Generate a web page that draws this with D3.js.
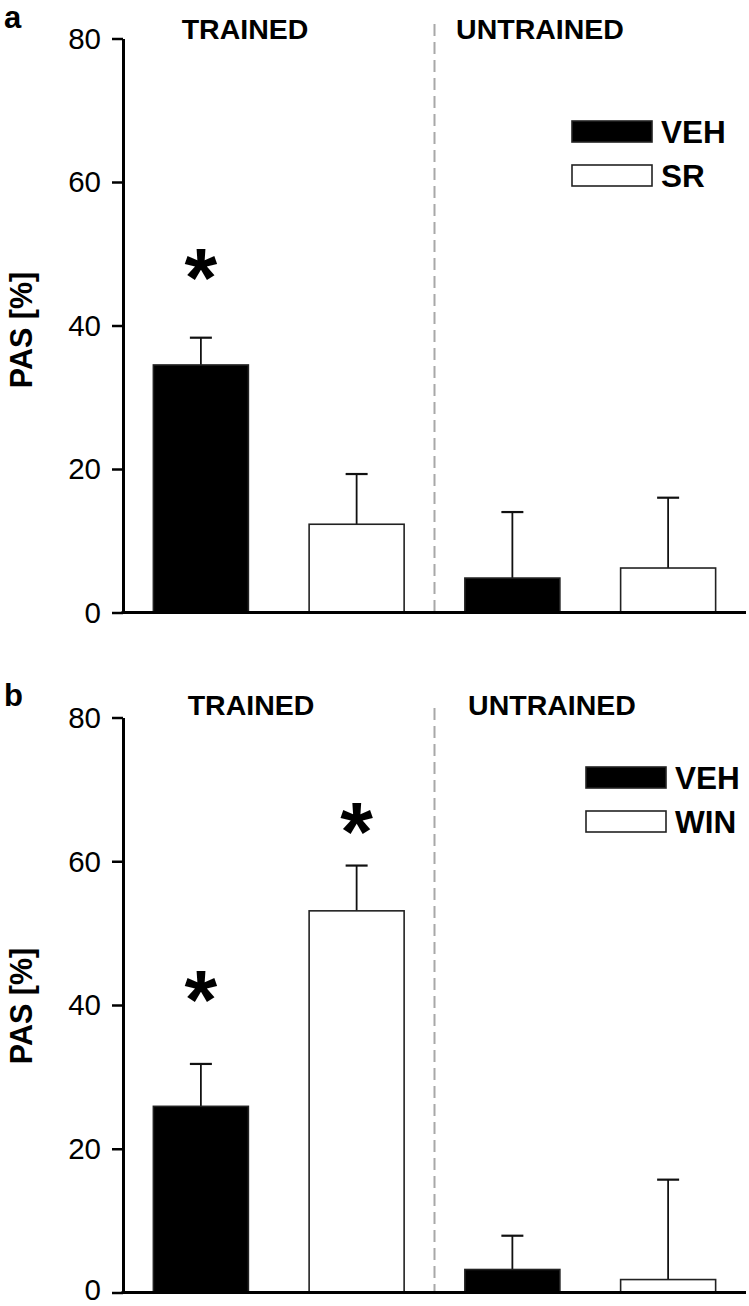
<!DOCTYPE html>
<html><head><meta charset="utf-8">
<script src="https://cdn.jsdelivr.net/npm/d3@7"></script>
<style>body{margin:0;background:#fff}svg{display:block}text{font-family:"Liberation Sans",Arial,sans-serif}</style>
</head><body><svg id="c" width="749" height="1306"></svg>
<script>
// ---------- data ----------
const barKeys = ["TRAINED-VEH", "TRAINED-DRUG", "UNTRAINED-VEH", "UNTRAINED-DRUG"];
const conditions = ["TRAINED", "UNTRAINED"];
const yTicks = [0, 20, 40, 60, 80];

const legendA = ["VEH", "SR"];
const meansA = [34.5, 12.3, 4.8, 6.2];
const semA = [3.8, 7.0, 9.2, 9.8];
const starsA = [46.9, null, null, null];

const legendB = ["VEH", "WIN"];
const meansB = [25.9, 53.1, 3.2, 1.8];
const semB = [5.9, 6.3, 4.7, 13.9];
const starsB = [41.0, 64.3, null, null];

// ---------- drawing ----------
const svg = d3.select("#c");
const fills = ["#000", "#fff", "#000", "#fff"];
const H = 1306;

function panel(cfg) {
  const g = svg.append("g");
  const y = d3.scaleLinear().domain([0, 80]).range([cfg.y0, cfg.y80]);
  const x = d3.scaleBand().domain(barKeys).range([123, 746]).paddingInner(0.39).paddingOuter(0.195);

  // panel letter
  g.append("text").attr("x", 4).attr("y", cfg.letterY).attr("font-size", 31).attr("font-weight", "bold").text(cfg.letter);

  // dashed separator
  const sepX = (x(barKeys[1]) + x.bandwidth() + x(barKeys[2])) / 2;
  g.append("line").attr("x1", sepX).attr("x2", sepX).attr("y1", cfg.dashTop).attr("y2", y(0))
    .attr("stroke", "#a8a8a8").attr("stroke-width", 2).attr("stroke-dasharray", "12,6");

  // condition labels
  conditions.forEach((c, i) => {
    g.append("text").attr("x", cfg.condX[i]).attr("y", cfg.condY).attr("text-anchor", "middle")
      .attr("font-size", 28.5).attr("font-weight", "bold").text(c);
  });

  // error bars
  const eb = g.selectAll(".eb").data(cfg.means).enter().append("g");
  eb.append("line").attr("x1", (d, i) => x(barKeys[i]) + x.bandwidth() / 2).attr("x2", (d, i) => x(barKeys[i]) + x.bandwidth() / 2)
    .attr("y1", d => y(d)).attr("y2", (d, i) => y(d + cfg.sem[i])).attr("stroke", "#111").attr("stroke-width", 1.8);
  eb.append("line").attr("x1", (d, i) => x(barKeys[i]) + x.bandwidth() / 2 - 11).attr("x2", (d, i) => x(barKeys[i]) + x.bandwidth() / 2 + 11)
    .attr("y1", (d, i) => y(d + cfg.sem[i])).attr("y2", (d, i) => y(d + cfg.sem[i])).attr("stroke", "#111").attr("stroke-width", 2.2);

  // bars
  g.selectAll(".bar").data(cfg.means).enter().append("rect")
    .attr("x", (d, i) => x(barKeys[i])).attr("width", x.bandwidth())
    .attr("y", d => y(d)).attr("height", d => y(0) - y(d))
    .attr("fill", (d, i) => fills[i]).attr("stroke", "#222").attr("stroke-width", 1.6);

  // stars
  cfg.stars.forEach((s, i) => {
    if (s == null) return;
    g.append("text").attr("x", x(barKeys[i]) + x.bandwidth() / 2).attr("y", y(s) + 31)
      .attr("text-anchor", "middle").attr("font-size", 84).attr("font-weight", "bold").text("*");
  });

  // y axis
  const ax = g.append("g").attr("transform", "translate(123,0)")
    .call(d3.axisLeft(y).tickValues(yTicks).tickSize(11).tickSizeOuter(0).tickPadding(11));
  ax.select(".domain").attr("stroke", "#000").attr("stroke-width", 3);
  ax.selectAll(".tick line").attr("stroke", "#000").attr("stroke-width", 2.5);
  ax.selectAll(".tick text").attr("font-size", 29.5).attr("fill", "#000").attr("font-family", '"Liberation Sans",Arial,sans-serif')
    .attr("dy", d => (y(d) + 0.33 * 29.5 + 0.22 * 29.5 > H) ? (H - y(d) - 0.22 * 29.5 - 0.5) + "px" : "0.33em");

  // x axis baseline
  g.append("line").attr("x1", x.range()[0] - 1.5).attr("x2", x.range()[1]).attr("y1", y(0)).attr("y2", y(0))
    .attr("stroke", "#000").attr("stroke-width", 3);

  // y title
  g.append("text").attr("transform", `translate(32,${cfg.titleY}) rotate(-90)`).attr("text-anchor", "middle")
    .attr("font-size", 30.5).attr("font-weight", "bold").text("PAS [%]");

  // legend
  cfg.legend.forEach((l, i) => {
    const ly = cfg.legY + i * 44;
    g.append("rect").attr("x", cfg.legX).attr("y", ly).attr("width", 80).attr("height", 21)
      .attr("fill", i === 0 ? "#000" : "#fff").attr("stroke", "#222").attr("stroke-width", 1.6);
    g.append("text").attr("x", cfg.legX + 89).attr("y", ly + 22).attr("font-size", 31.5).attr("font-weight", "bold").text(l);
  });
}

panel({letter: "a", letterY: 28, y0: 612.5, y80: 38.5, means: meansA, sem: semA, stars: starsA,
  condX: [245, 540], condY: 39, dashTop: 24, titleY: 330, legend: legendA, legX: 572, legY: 121});
panel({letter: "b", letterY: 706, y0: 1292.5, y80: 717.5, means: meansB, sem: semB, stars: starsB,
  condX: [251, 552], condY: 715, dashTop: 708, titleY: 1006, legend: legendB, legX: 586, legY: 767});
</script></body></html>
